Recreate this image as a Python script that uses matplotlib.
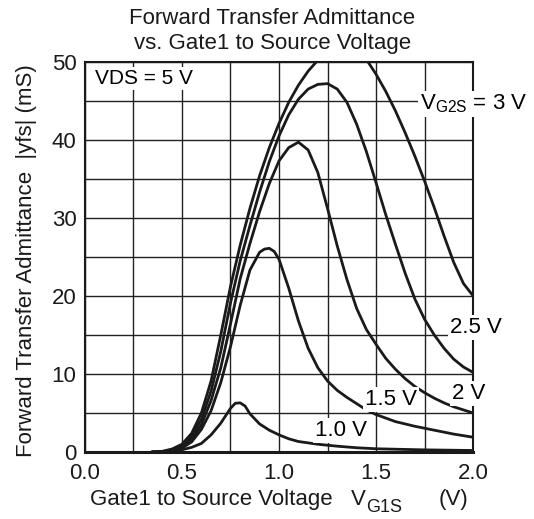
import matplotlib
matplotlib.use('Agg')
import matplotlib.pyplot as plt
from matplotlib.ticker import MultipleLocator

plt.rcParams['font.family'] = ['Liberation Sans', 'DejaVu Sans']
plt.rcParams['mathtext.fontset'] = 'custom'
plt.rcParams['mathtext.rm'] = 'Liberation Sans'

# curves: VG1S (V) -> |yfs| (mS)
v_3_0 = [0.35, 0.40, 0.45, 0.50, 0.55, 0.60, 0.65, 0.70, 0.75, 0.80, 0.85, 0.90, 0.95, 1.00,
         1.05, 1.10, 1.15, 1.20, 1.25, 1.30, 1.35, 1.40, 1.45, 1.50, 1.55, 1.60, 1.65, 1.70,
         1.75, 1.80, 1.85, 1.90, 1.95, 2.00]
y_3_0 = [0.0, 0.1, 0.4, 1.0, 2.4, 5.0, 9.1, 15.0, 21.2, 26.5, 31.2, 35.4, 39.0, 42.1,
         44.8, 47.0, 48.8, 50.2, 51.3, 52.0, 52.2, 51.6, 50.3, 48.4, 46.2, 43.7, 40.9, 37.9,
         34.7, 31.3, 27.7, 24.3, 21.6, 20.0]

v_2_5 = [0.35, 0.40, 0.45, 0.50, 0.55, 0.60, 0.65, 0.70, 0.75, 0.80, 0.85, 0.90, 0.95, 1.00,
         1.05, 1.10, 1.15, 1.20, 1.25, 1.30, 1.35, 1.40, 1.45, 1.50, 1.55, 1.60, 1.65, 1.70,
         1.75, 1.80, 1.85, 1.90, 1.95, 2.00]
y_2_5 = [0.0, 0.05, 0.3, 0.8, 2.0, 4.2, 7.8, 12.9, 19.1, 24.5, 29.0, 33.3, 37.2, 40.5,
         43.2, 45.2, 46.5, 47.1, 47.2, 46.5, 44.8, 42.0, 38.5, 34.5, 30.4, 26.6, 22.9, 19.6,
         17.0, 15.0, 13.3, 11.9, 10.9, 10.2]

v_2_0 = [0.35, 0.40, 0.45, 0.50, 0.55, 0.60, 0.65, 0.70, 0.75, 0.80, 0.85, 0.90, 0.95, 1.00,
         1.05, 1.10, 1.15, 1.20, 1.25, 1.30, 1.35, 1.40, 1.45, 1.50, 1.55, 1.60, 1.65, 1.70,
         1.75, 1.80, 1.85, 1.90, 1.95, 2.00]
y_2_0 = [0.0, 0.03, 0.2, 0.6, 1.6, 3.5, 6.6, 10.8, 16.4, 22.2, 26.7, 30.8, 34.4, 37.3,
         39.0, 39.7, 38.7, 35.8, 31.2, 26.4, 22.1, 18.4, 15.7, 13.8, 12.0, 10.6, 9.4, 8.4,
         7.6, 6.9, 6.3, 5.8, 5.4, 5.0]

v_1_5 = [0.35, 0.40, 0.45, 0.50, 0.55, 0.60, 0.65, 0.70, 0.75, 0.80, 0.85, 0.90, 0.925, 0.95,
         0.975, 1.00, 1.05, 1.10, 1.15, 1.20, 1.25, 1.30, 1.35, 1.40, 1.45, 1.50, 1.60, 1.70,
         1.80, 1.90, 2.00]
y_1_5 = [0.0, 0.02, 0.15, 0.5, 1.3, 2.9, 5.3, 8.9, 13.5, 18.8, 23.3, 25.6, 26.0, 26.1,
         25.7, 24.7, 21.0, 16.8, 13.3, 10.8, 9.1, 7.9, 7.0, 6.2, 5.4, 4.8, 3.9, 3.3,
         2.8, 2.3, 1.9]

v_1_0 = [0.35, 0.40, 0.45, 0.50, 0.55, 0.60, 0.65, 0.70, 0.75, 0.775, 0.80, 0.825, 0.85, 0.90,
         0.95, 1.00, 1.05, 1.10, 1.20, 1.30, 1.40, 1.50, 1.75, 2.00]
y_1_0 = [0.0, 0.02, 0.1, 0.3, 0.6, 1.1, 2.2, 3.7, 5.6, 6.25, 6.3, 5.9, 4.9, 3.6,
         2.8, 2.2, 1.7, 1.35, 1.0, 0.75, 0.55, 0.42, 0.28, 0.2]

curves = [(v_3_0, y_3_0), (v_2_5, y_2_5), (v_2_0, y_2_0), (v_1_5, y_1_5), (v_1_0, y_1_0)]

fig = plt.figure(figsize=(5.34, 5.19), dpi=100)
ax = fig.add_axes([0.159, 0.129, 0.727, 0.752])

for vx, vy in curves:
    ax.plot(vx, vy, color='#1a1a1a', lw=2.0, solid_joinstyle='round', zorder=2)

ax.set_xlim(0, 2.0)
ax.set_ylim(0, 50)
ax.xaxis.set_minor_locator(MultipleLocator(0.25))
ax.yaxis.set_major_locator(MultipleLocator(10))
ax.yaxis.set_minor_locator(MultipleLocator(5))
ax.set_xticks([0.0, 0.5, 1.0, 1.5, 2.0])
ax.set_xticklabels(['0.0', '0.5', '1.0', '1.5', '2.0'])
ax.grid(True, which='both', color='#222222', lw=1.0)
ax.tick_params(which='both', length=0, labelsize=16, colors='#1a1a1a')
ax.tick_params(axis='x', pad=8)
ax.tick_params(axis='y', pad=6)
for s in ax.spines.values():
    s.set_color('#1a1a1a')
    s.set_linewidth(1.5)
ax.spines['bottom'].set_linewidth(2.2)

box = dict(facecolor='white', edgecolor='none', pad=1.5)
ax.text(0.05, 47.9, 'VDS = 5 V', fontsize=15, va='center', ha='left', bbox=box, zorder=4)
ax.text(1.727, 44.6, r'$\mathregular{V_{G2S}}$ = 3 V', fontsize=16, va='center', ha='left',
        bbox=box, zorder=4, clip_on=False)
ax.text(1.88, 16.0, '2.5 V', fontsize=16, va='center', ha='left', bbox=box, zorder=4, clip_on=False)
ax.text(1.89, 7.5, '2 V', fontsize=16, va='center', ha='left', bbox=box, zorder=4, clip_on=False)
ax.text(1.443, 6.7, '1.5 V', fontsize=16, va='center', ha='left', bbox=box, zorder=4)
ax.text(1.186, 2.8, '1.0 V', fontsize=16, va='center', ha='left', bbox=box, zorder=4)

fig.text(0.51, 0.965, 'Forward Transfer Admittance', fontsize=16, ha='center', va='center', color='#1a1a1a')
fig.text(0.51, 0.917, 'vs. Gate1 to Source Voltage', fontsize=16, ha='center', va='center', color='#1a1a1a')
# x label pieces, the subscript in the source is drawn fairly large
fig.text(0.168, 0.037, 'Gate1 to Source Voltage', fontsize=16, ha='left', va='center', color='#1a1a1a')
fig.text(0.657, 0.037, 'V', fontsize=16, ha='left', va='center', color='#1a1a1a')
fig.text(0.686, 0.022, 'G1S', fontsize=13, ha='left', va='center', color='#1a1a1a')
fig.text(0.822, 0.037, '(V)', fontsize=16, ha='left', va='center', color='#1a1a1a')
fig.text(0.05, 0.497, 'Forward Transfer Admittance  |yfs| (mS)', fontsize=16, rotation=90,
         ha='center', va='center', color='#1a1a1a')

fig.savefig('out.png', dpi=100)
